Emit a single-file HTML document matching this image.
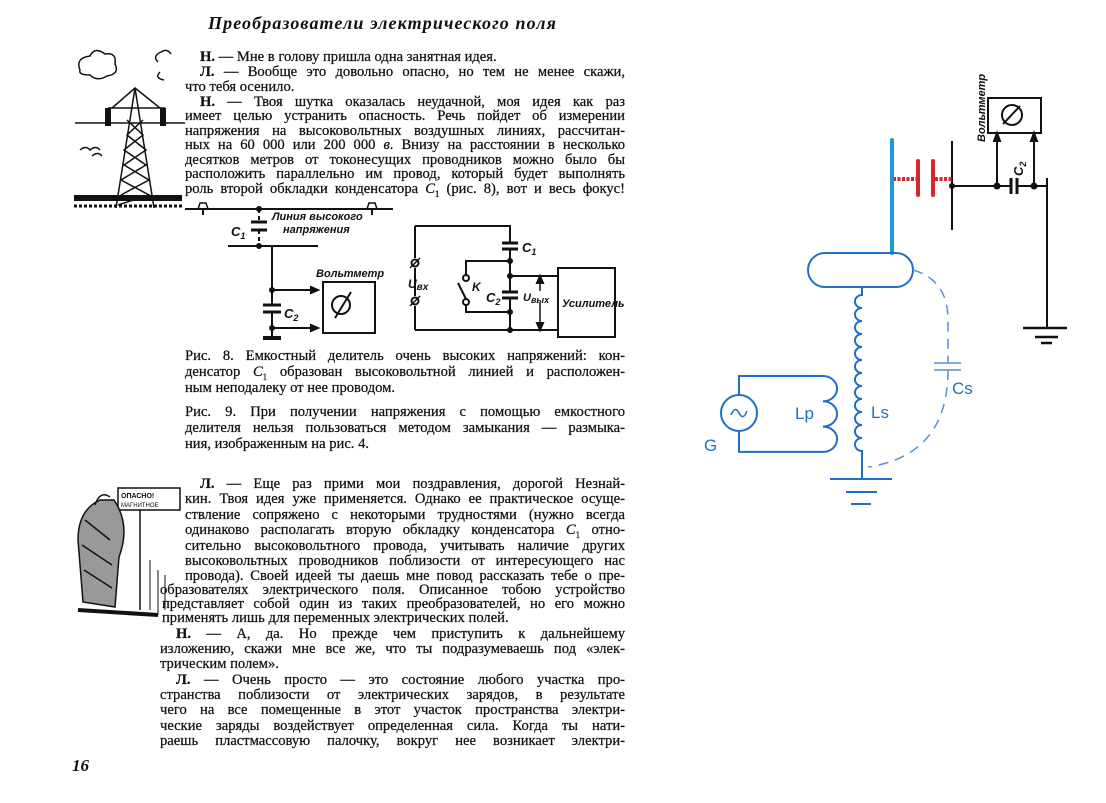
<!DOCTYPE html>
<html><head><meta charset="utf-8"><style>
body{margin:0;width:1106px;height:803px;background:#fff;position:relative;overflow:hidden;font-family:"Liberation Serif",serif;color:#111}
.l{position:absolute;font-size:14.6px;line-height:15px;white-space:nowrap;text-align:justify;text-align-last:justify;-webkit-text-stroke:0.25px #111}
.s{text-align-last:left}
svg{position:absolute;left:0;top:0}
</style></head><body>
<div style="position:absolute;left:208px;top:13px;font-size:18px;font-weight:bold;font-style:italic;letter-spacing:1.1px">Преобразователи электрического поля</div>

<div class="l s" style="left:200px;top:50px;width:425px"><b>Н.</b> — Мне в голову пришла одна занятная идея.</div>
<div class="l" style="left:200px;top:65px;width:425px"><b>Л.</b> — Вообще это довольно опасно, но тем не менее скажи,</div>
<div class="l s" style="left:185px;top:80px;width:440px">что тебя осенило.</div>
<div class="l" style="left:200px;top:95px;width:425px"><b>Н.</b> — Твоя шутка оказалась неудачной, моя идея как раз</div>
<div class="l" style="left:185px;top:109px;width:440px">имеет целью устранить опасность. Речь пойдет об измерении</div>
<div class="l" style="left:185px;top:124px;width:440px">напряжения на высоковольтных воздушных линиях, рассчитан-</div>
<div class="l" style="left:185px;top:138px;width:440px">ных на 60 000 или 200 000 <i>в</i>. Внизу на расстоянии в несколько</div>
<div class="l" style="left:185px;top:153px;width:440px">десятков метров от токонесущих проводников можно было бы</div>
<div class="l" style="left:185px;top:167px;width:440px">расположить параллельно им провод, который будет выполнять</div>
<div class="l" style="left:185px;top:182px;width:440px">роль второй обкладки конденсатора <i>C</i><sub style="font-size:9px">1</sub> (рис. 8), вот и весь фокус!</div>

<div class="l" style="left:185px;top:349px;width:440px">Рис. 8. Емкостный делитель очень высоких напряжений: кон-</div>
<div class="l" style="left:185px;top:365px;width:440px">денсатор <i>C</i><sub style="font-size:9px">1</sub> образован высоковольтной линией и расположен-</div>
<div class="l s" style="left:185px;top:381px;width:440px">ным неподалеку от нее проводом.</div>
<div class="l" style="left:185px;top:405px;width:440px">Рис. 9. При получении напряжения с помощью емкостного</div>
<div class="l" style="left:185px;top:421px;width:440px">делителя нельзя пользоваться методом замыкания — размыка-</div>
<div class="l s" style="left:185px;top:437px;width:440px">ния, изображенным на рис. 4.</div>

<div class="l" style="left:200px;top:477px;width:425px"><b>Л.</b> — Еще раз прими мои поздравления, дорогой Незнай-</div>
<div class="l" style="left:185px;top:492px;width:440px">кин. Твоя идея уже применяется. Однако ее практическое осуще-</div>
<div class="l" style="left:185px;top:508px;width:440px">ствление сопряжено с некоторыми трудностями (нужно всегда</div>
<div class="l" style="left:185px;top:523px;width:440px">одинаково располагать вторую обкладку конденсатора <i>C</i><sub style="font-size:9px">1</sub> отно-</div>
<div class="l" style="left:185px;top:539px;width:440px">сительно высоковольтного провода, учитывать наличие других</div>
<div class="l" style="left:185px;top:554px;width:440px">высоковольтных проводников поблизости от интересующего нас</div>
<div class="l" style="left:185px;top:569px;width:440px">провода). Своей идеей ты даешь мне повод рассказать тебе о пре-</div>
<div class="l" style="left:160px;top:583px;width:465px">образователях электрического поля. Описанное тобою устройство</div>
<div class="l" style="left:162px;top:597px;width:463px">представляет собой один из таких преобразователей, но его можно</div>
<div class="l s" style="left:162px;top:611px;width:463px">применять лишь для переменных электрических полей.</div>
<div class="l" style="left:176px;top:627px;width:449px"><b>Н.</b> — А, да. Но прежде чем приступить к дальнейшему</div>
<div class="l" style="left:160px;top:642px;width:465px">изложению, скажи мне все же, что ты подразумеваешь под «элек-</div>
<div class="l s" style="left:160px;top:657px;width:465px">трическим полем».</div>
<div class="l" style="left:176px;top:673px;width:449px"><b>Л.</b> — Очень просто — это состояние любого участка про-</div>
<div class="l" style="left:160px;top:688px;width:465px">странства поблизости от электрических зарядов, в результате</div>
<div class="l" style="left:160px;top:703px;width:465px">чего на все помещенные в этот участок пространства электри-</div>
<div class="l" style="left:160px;top:719px;width:465px">ческие заряды воздействует определенная сила. Когда ты нати-</div>
<div class="l" style="left:160px;top:734px;width:465px">раешь пластмассовую палочку, вокруг нее возникает электри-</div>
<div style="position:absolute;left:72px;top:756px;font-size:17px;font-weight:bold;font-style:italic">16</div>

<svg width="1106" height="803" viewBox="0 0 1106 803" fill="none" stroke="#111" stroke-width="2" font-family="Liberation Sans, sans-serif">
<!-- tower sketch -->
<g stroke-width="1.5">
<path d="M80 70 q-5-12 10-14 q5-10 15-2 q12-2 10 10 q5 10-8 12 q-10 6-17-1 q-12 0-10-5z"/>
<path d="M158 62 q-6-6 3-10 q6-4 10 2 M160 72 q-6 6 4 8"/>
<path d="M75 123 H185"/>
<path d="M135 88 L116 208 M135 88 L154 208 M108 108 H165 M112 108 L135 88 L160 108 M127 120 L143 135 L124 150 L146 165 L121 180 L149 195 L118 205 M143 120 L127 135 L146 150 L124 165 L149 180 L121 195"/>
<path d="M108 108 v18 M163 108 v18" stroke-width="6"/>
<path d="M80 150 q6-5 10 0 q6-5 10 0 M92 156 q6-5 10 0"/>
<path d="M74 198 h108" stroke-width="6"/>
<path d="M74 206 h110" stroke-width="3" stroke-dasharray="3 2"/>
</g>
<!-- person sketch -->
<g stroke-width="1.5">
<rect x="118" y="488" width="62" height="22"/>
<text x="121" y="498" font-size="7" fill="#111" stroke="none" font-weight="bold">ОПАСНО!</text>
<text x="121" y="507" font-size="6" fill="#111" stroke="none">МАГНИТНОЕ</text>
<path d="M140 510 V610"/>
<path d="M100 500 q-22 10-22 40 l5 62 l32 5 l4-50 q12-32-5-57z" fill="#999"/>
<path d="M95 505 q5-15 15-8 M85 520 l25 20 M82 545 l30 20 M84 570 l28 18" />
<path d="M78 610 l80 5" stroke-width="4"/>
<path d="M150 560 v50 M158 570 v45 M165 575 v35" stroke-width="1"/>
</g>
<!-- Fig 8 -->
<path d="M185 209 H393"/>
<path d="M198 209 h10 l-2-6 h-6z M367 209 h10 l-2-6 h-6z" stroke-width="1.5"/>
<path d="M203 209 v6 M372 209 v6"/>
<path d="M259 209 V222 M259 230 V246" stroke-dasharray="4 3"/>
<path d="M251 222 H267 M251 230 H267" stroke-width="3"/>
<path d="M228 246 H318 M272 246 V305 M272 312 V338" />
<path d="M263 338 H281" stroke-width="4"/>
<path d="M263 305 H281 M263 312 H281" stroke-width="3"/>
<path d="M272 290 H318 M272 328 H318"/>
<path d="M318 290 l-7-3 v6z M318 328 l-7-3 v6z" fill="#111"/>
<rect x="323" y="282" width="52" height="51"/>
<circle cx="341" cy="305" r="9"/><path d="M335 318 L351 292"/>
<circle cx="259" cy="209" r="2" fill="#111"/><circle cx="259" cy="246" r="2" fill="#111"/><circle cx="272" cy="290" r="2" fill="#111"/><circle cx="272" cy="328" r="2" fill="#111"/>
<g fill="#111" stroke="none" font-style="italic" font-weight="bold">
<text x="231" y="236" font-size="13">C<tspan font-size="9" dy="3">1</tspan></text>
<text x="284" y="318" font-size="13">C<tspan font-size="9" dy="3">2</tspan></text>
<text x="272" y="220" font-size="11">Линия высокого</text>
<text x="283" y="233" font-size="11">напряжения</text>
<text x="316" y="277" font-size="11">Вольтметр</text>
</g>
<!-- Fig 9 -->
<path d="M415 226 V258 M415 268 V296 M415 306 V330 M415 226 H510 V243 M510 249 V292 M510 298 V330 H415"/>
<path d="M502 243 H518 M502 249 H518 M502 292 H518 M502 298 H518" stroke-width="3"/>
<circle cx="415" cy="263" r="3.5"/><circle cx="415" cy="301" r="3.5"/>
<path d="M410 268 l10-10 M410 306 l10-10" stroke-width="1.5"/>
<path d="M510 261 H466 V275 M466 305 V312 H510"/>
<circle cx="466" cy="278" r="3"/><circle cx="466" cy="302" r="3"/>
<path d="M466 299 L458 283"/>
<path d="M510 276 H558 M510 330 H558"/>
<rect x="558" y="268" width="57" height="69"/>
<path d="M540 276 V330" stroke-width="1.5"/><path d="M540 276 l-3 7 h6z M540 330 l-3-7 h6z" fill="#111"/>
<circle cx="510" cy="261" r="2" fill="#111"/><circle cx="510" cy="276" r="2" fill="#111"/><circle cx="510" cy="312" r="2" fill="#111"/><circle cx="510" cy="330" r="2" fill="#111"/>
<rect x="522" y="291" width="34" height="12" fill="#fff" stroke="none"/>
<g fill="#111" stroke="none" font-style="italic" font-weight="bold">
<text x="522" y="252" font-size="13">C<tspan font-size="9" dy="3">1</tspan></text>
<text x="486" y="302" font-size="13">C<tspan font-size="9" dy="3">2</tspan></text>
<text x="472" y="291" font-size="12">K</text>
<text x="408" y="288" font-size="12">U<tspan font-size="10" dy="2">вх</tspan></text>
<text x="523" y="301" font-size="11">U<tspan font-size="9" dy="2">вых</tspan></text>
<text x="562" y="307" font-size="11">Усилитель</text>
</g>
<!-- right: black part -->
<path d="M952 141 V230 M952 186 H1010 M1018 186 H1047 M1047 178 V328"/>
<path d="M1011 178 V194 M1017 178 V194" stroke-width="3"/>
<path d="M1023 328 H1067 M1035 337 H1058 M1041 343 H1052" stroke-width="2.5"/>
<path d="M997 186 V135 M1034 186 V135"/>
<path d="M997 133 l-3 8 h6z M1034 133 l-3 8 h6z" fill="#111"/>
<rect x="988" y="98" width="53" height="35"/>
<circle cx="1012" cy="115" r="10"/><path d="M1003 124 L1020 106"/>
<circle cx="952" cy="186" r="2" fill="#111"/><circle cx="997" cy="186" r="2.5" fill="#111"/><circle cx="1034" cy="186" r="2.5" fill="#111"/>
<text transform="translate(985,142) rotate(-90)" font-size="11" font-weight="bold" font-style="italic" fill="#111" stroke="none">Вольтметр</text>
<text transform="translate(1023,176) rotate(-90)" font-size="13" font-weight="bold" font-style="italic" fill="#111" stroke="none">C<tspan font-size="9" dy="3">2</tspan></text>
<!-- red cap -->
<path d="M893 179 H916 M935 179 H952" stroke="#d8262d" stroke-width="4" stroke-dasharray="3 1.5"/>
<path d="M918 161 V195 M933 161 V195" stroke="#d8262d" stroke-width="4" stroke-linecap="round"/>
<!-- blue -->
<path d="M892 140 V253" stroke="#1a9ad6" stroke-width="4" stroke-linecap="round"/>
<g stroke="#1f6fc6" stroke-width="2">
<rect x="808" y="253" width="105" height="34" rx="17"/>
<path d="M862 287 V295 a7 6.5 0 0 0 0 13 a7 6.5 0 0 0 0 13 a7 6.5 0 0 0 0 13 a7 6.5 0 0 0 0 13 a7 6.5 0 0 0 0 13 a7 6.5 0 0 0 0 13 a7 6.5 0 0 0 0 13 a7 6.5 0 0 0 0 13 a7 6.5 0 0 0 0 13 a7 6.5 0 0 0 0 13 a7 6.5 0 0 0 0 13 a7 6.5 0 0 0 0 13 V479"/>
<path d="M830 479 H892 M846 492 H877 M851 504 H871"/>
<circle cx="739" cy="413" r="18"/>
<path d="M731 415 q4-10 8-2 q4 8 8-2" stroke-width="1.5"/>
<path d="M739 395 V376 H823 a7 6.3 0 0 1 0 25.3 a7 6.3 0 0 1 0 25.3 a7 6.3 0 0 1 0 25.3 H739 V431"/>
</g>
<g stroke="#5b8fd6" stroke-width="1.5" stroke-dasharray="10 7">
<path d="M913 270 Q948 280 948 320 V363"/>
<path d="M948 370 Q948 455 868 467"/>
</g>
<path d="M934 363 H961 M934 370 H961" stroke="#5b8fd6" stroke-width="1.5"/>
<g fill="#1f6fc6" stroke="none" font-size="17">
<text x="952" y="394">Cs</text>
<text x="871" y="418">Ls</text>
<text x="795" y="419">Lp</text>
<text x="704" y="451">G</text>
</g>
</svg>
</body></html>
